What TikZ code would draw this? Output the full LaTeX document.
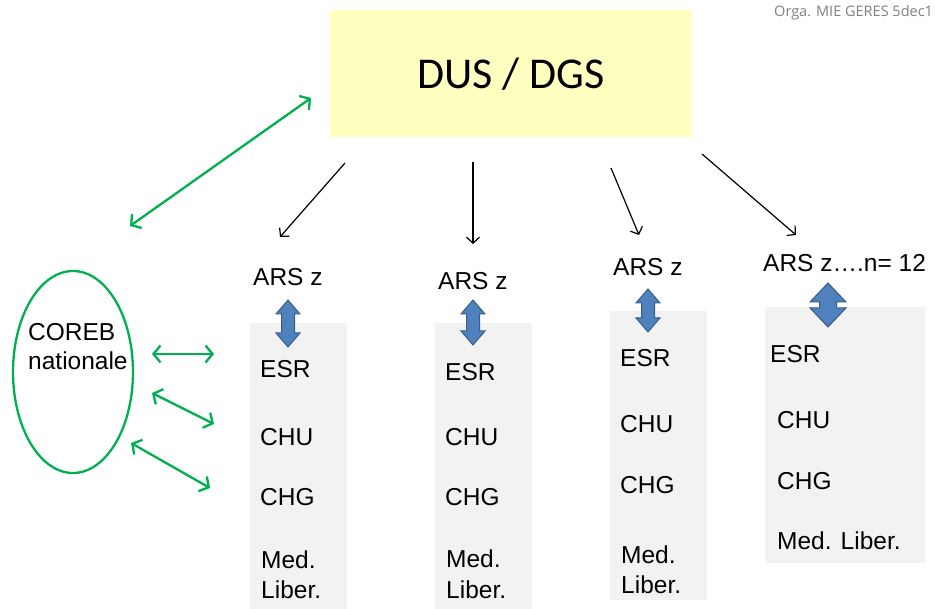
\documentclass[tikz,border=0pt]{standalone}
\usepackage{fontspec}
\setmainfont{Liberation Sans}
\newfontfamily\calibri{Carlito}
\newfontfamily\orgafont{Open Sans}
\usepackage{xcolor}
\usetikzlibrary{arrows.meta}
\usetikzlibrary{shapes.geometric}
\definecolor{corebgreen}{RGB}{0,176,80}
\definecolor{dusyellow}{RGB}{255,255,192}
\definecolor{colgrey}{RGB}{242,242,242}
\definecolor{arrowblue}{RGB}{79,129,189}
\definecolor{arrowedge}{RGB}{56,93,138}
\definecolor{orgagrey}{RGB}{127,127,127}
\tikzstyle{green<>}=[draw=corebgreen, line width=2.3pt, {Straight Barb[length=7pt,width=17pt]}-{Straight Barb[length=7pt,width=17pt]}]
\tikzstyle{down>}=[draw=black, line width=1.2pt, -{Straight Barb[length=6pt,width=13pt]}]
\tikzstyle{colbox}=[fill=colgrey, inner sep=0, anchor=north west]
\tikzstyle{lbl}=[anchor=base west, inner sep=0, font=\fontsize{24.5}{29}\selectfont]
\tikzstyle{updown}=[fill=arrowblue, draw=arrowedge, line width=1pt, line join=miter]

\begin{document}
\begin{tikzpicture}[x=1pt,y=-1pt]
\useasboundingbox (0,0) rectangle (935,609);
\node[fill=dusyellow, inner sep=0, anchor=north west, minimum width=362, minimum height=127] (dus) at (330,10) {};
\node[anchor=base, inner sep=0, font=\calibri\fontsize{44}{50}\selectfont] (dustext) at (511,89) {DUS / DGS};
\node[anchor=base west, inner sep=0, text=orgagrey, font=\orgafont\fontsize{14.5}{16}\selectfont] (orga) at (774,17) {Orga. MIE GERES 5dec1};

\node[ellipse, draw=corebgreen, line width=2.3pt, minimum width=120, minimum height=202] (coreb) at (73,372) {};
\node[lbl, align=left] (corebtext) at (28,370) {COREB\\nationale};

\foreach \n/\x/\y/\w/\h in {1/250/323/97/286, 2/435/323/97/286, 3/610/311/97/289, 4/765/307/160/256} {
	\node[colbox, minimum width=\w, minimum height=\h] (col\n) at (\x,\y) {};
}

\node[lbl] (ars1) at (253,286) {ARS z};
\node[lbl] (ars2) at (438,290) {ARS z};
\node[lbl] (ars3) at (613,276) {ARS z};
\node[lbl] (ars4) at (763,272) {ARS z….n= 12};

\foreach \n/\x/\a/\b/\c in {1/260/378/446/506, 2/445/381/446/506, 3/620/367/433/494} {
	\node[lbl] (esr\n) at (\x,\a) {ESR};
	\node[lbl] (chu\n) at (\x,\b) {CHU};
	\node[lbl] (chg\n) at (\x,\c) {CHG};
}
\node[lbl] (med1) at (261,568) {Med.};
\node[lbl] (lib1) at (261,598) {Liber.};
\node[lbl] (med2) at (446,567) {Med.};
\node[lbl] (lib2) at (446,598) {Liber.};
\node[lbl] (med3) at (621,563) {Med.};
\node[lbl] (lib3) at (621,593) {Liber.};
\node[lbl] (esr4) at (770,363) {ESR};
\node[lbl] (chu4) at (777,429) {CHU};
\node[lbl] (chg4) at (777,490) {CHG};
\node[lbl] (medlib4) at (777,550) {Med. Liber.};

\foreach \x/\t/\b/\s/\h/\l in {288/300/347/6.5/12/14, 473/300/345/6.5/12/14, 648/289/332/6.5/12/14, 828/283/327/8.5/18/19} {
	\draw[updown] (\x,\t) -- (\x+\h,\t+\l) -- (\x+\s,\t+\l) -- (\x+\s,\b-\l) -- (\x+\h,\b-\l) -- (\x,\b)
		-- (\x-\h,\b-\l) -- (\x-\s,\b-\l) -- (\x-\s,\t+\l) -- (\x-\h,\t+\l) -- cycle;
}

\foreach \n/\x/\y/\u/\v in {1/345/163/280/237, 2/473/162/473/244, 3/611/168/639/235, 4/702/154/796/235} {
	\coordinate (top\n) at (\x,\y);
	\coordinate (end\n) at (\u,\v);
	\draw[down>] (top\n) -- (end\n);
}

\coordinate (gdus) at (311,98);
\coordinate (gcoreb) at (130,226);
\draw[green<>] (gcoreb) -- (gdus);
\foreach \n/\x/\y/\u/\v in {1/152/354/214/354, 2/152/393/214/424, 3/131/443/210/488} {
	\coordinate (gl\n) at (\x,\y);
	\coordinate (gr\n) at (\u,\v);
	\draw[green<>] (gl\n) -- (gr\n);
}
\end{tikzpicture}
\end{document}
